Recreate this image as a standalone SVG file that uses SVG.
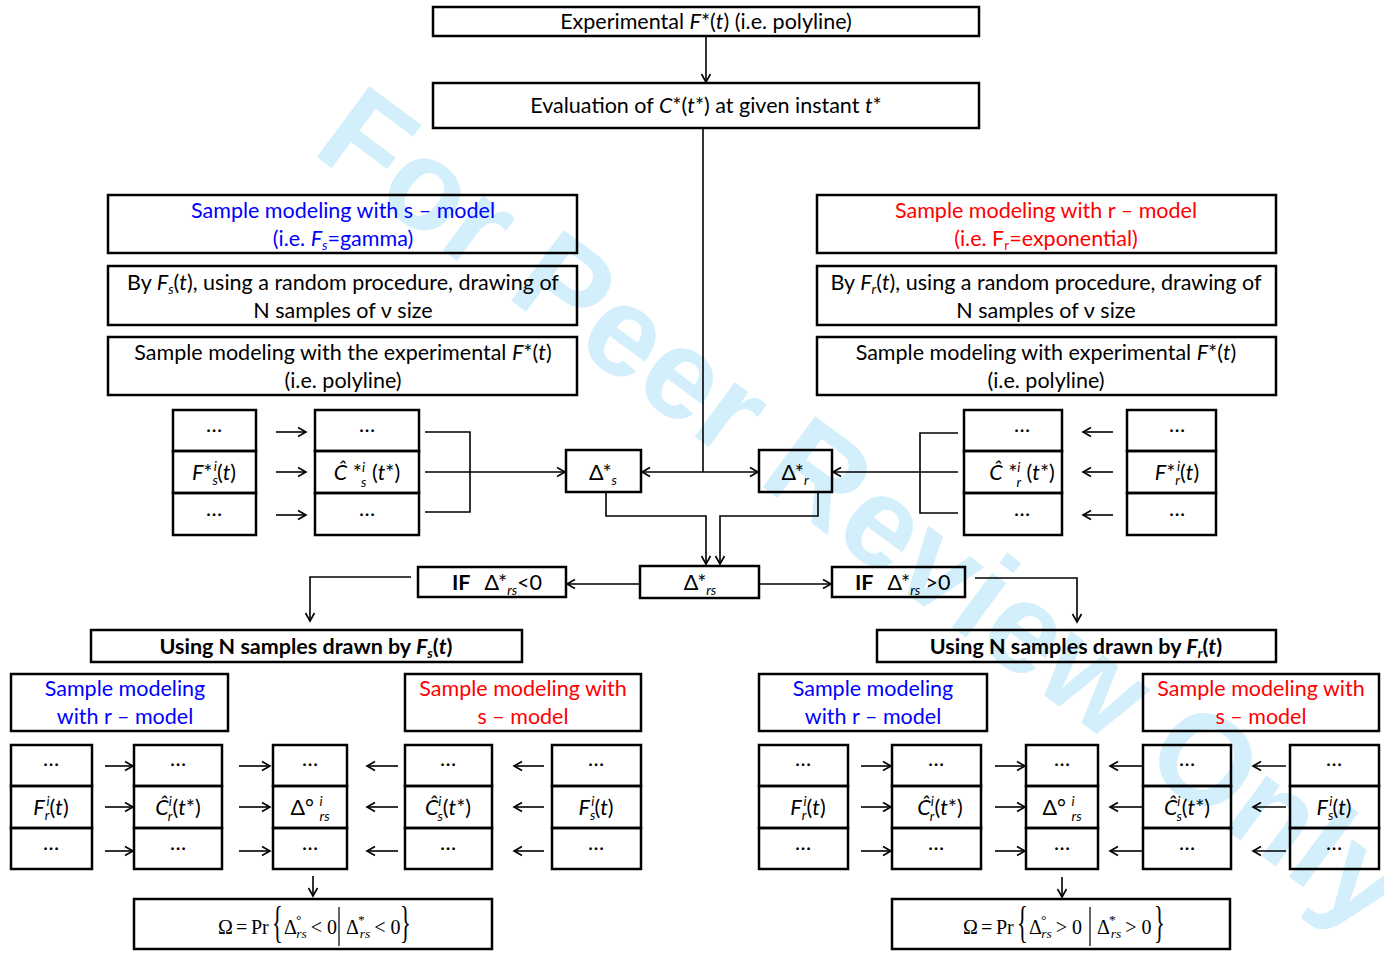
<svg xmlns="http://www.w3.org/2000/svg" width="1384" height="956" viewBox="0 0 1384 956">
<style>
.bg{fill:#fff}
.box{fill:none;stroke:#000;stroke-width:2.5}
.t{font-family:Lato,"Liberation Sans",sans-serif;font-size:21.5px;text-anchor:middle;fill:#000}
.ts{font-family:Lato,"Liberation Sans",sans-serif;font-size:21.5px;fill:#000}
.f{font-family:"Liberation Serif",serif;font-size:20px;fill:#000}
.br{font-family:"Liberation Serif",serif;font-size:45px;fill:#000}
.i{font-style:italic}
.b{font-weight:bold}
.sm{font-size:13.5px}
.blue{fill:#0000ff}
.red{fill:#ff0000}
.c{stroke:#000;stroke-width:1.6;fill:none}
.ca{stroke:#000;stroke-width:1.6;fill:none;marker-end:url(#ah)}
.wm{font-family:"Liberation Sans",Arial,sans-serif;font-weight:bold;font-size:128px;fill:#d3effc}
</style>
<defs>
<marker id="ah" markerWidth="12" markerHeight="12" refX="10" refY="6" orient="auto-start-reverse" markerUnits="userSpaceOnUse">
<path d="M2,1.5 L10,6 L2,10.5" fill="none" stroke="#000" stroke-width="1.6"/>
</marker>
</defs>
<rect class="bg" x="0" y="0" width="1384" height="956"/>
<text class="wm" transform="translate(310,152) rotate(36.5)">For Peer Review Only</text>

<g id="connectors">
<line class="ca" x1="706" y1="36" x2="706" y2="82"/>
<line class="c" x1="703" y1="128" x2="703" y2="472"/>
<polyline class="c" points="425,432 470,432 470,512 425,512"/>
<line class="ca" x1="425" y1="472" x2="565" y2="472"/>
<line class="ca" x1="703" y1="472" x2="642" y2="472"/>
<line class="ca" x1="703" y1="472" x2="758" y2="472"/>
<polyline class="c" points="958,433 920,433 920,513 958,513"/>
<line class="ca" x1="958" y1="472" x2="833" y2="472"/>
<polyline class="ca" points="606,492 606,516 706,516 706,564"/>
<polyline class="ca" points="818,492 818,516 720,516 720,564"/>
<line class="ca" x1="640" y1="584" x2="567" y2="584"/>
<line class="ca" x1="759" y1="584" x2="831" y2="584"/>
<polyline class="ca" points="411,577 310,577 310,621"/>
<polyline class="ca" points="975,578 1077,578 1077,622"/>
<line class="ca" x1="276" y1="432" x2="306" y2="432"/>
<line class="ca" x1="276" y1="472" x2="306" y2="472"/>
<line class="ca" x1="276" y1="515" x2="306" y2="515"/>
<line class="ca" x1="1113" y1="432" x2="1083" y2="432"/>
<line class="ca" x1="1113" y1="472" x2="1083" y2="472"/>
<line class="ca" x1="1113" y1="515" x2="1083" y2="515"/>
<line class="ca" x1="105" y1="766" x2="133" y2="766"/>
<line class="ca" x1="105" y1="807" x2="133" y2="807"/>
<line class="ca" x1="105" y1="851" x2="133" y2="851"/>
<line class="ca" x1="239" y1="766" x2="270" y2="766"/>
<line class="ca" x1="239" y1="807" x2="270" y2="807"/>
<line class="ca" x1="239" y1="851" x2="270" y2="851"/>
<line class="ca" x1="398" y1="766" x2="367" y2="766"/>
<line class="ca" x1="398" y1="807" x2="367" y2="807"/>
<line class="ca" x1="398" y1="851" x2="367" y2="851"/>
<line class="ca" x1="544" y1="766" x2="514" y2="766"/>
<line class="ca" x1="544" y1="807" x2="514" y2="807"/>
<line class="ca" x1="544" y1="851" x2="514" y2="851"/>
<line class="ca" x1="313" y1="876" x2="313" y2="896"/>
<line class="ca" x1="861" y1="766" x2="891" y2="766"/>
<line class="ca" x1="861" y1="807" x2="891" y2="807"/>
<line class="ca" x1="861" y1="851" x2="891" y2="851"/>
<line class="ca" x1="995" y1="766" x2="1025" y2="766"/>
<line class="ca" x1="995" y1="807" x2="1025" y2="807"/>
<line class="ca" x1="995" y1="851" x2="1025" y2="851"/>
<line class="ca" x1="1142" y1="766" x2="1110" y2="766"/>
<line class="ca" x1="1142" y1="807" x2="1110" y2="807"/>
<line class="ca" x1="1142" y1="851" x2="1110" y2="851"/>
<line class="ca" x1="1286" y1="766" x2="1253" y2="766"/>
<line class="ca" x1="1286" y1="807" x2="1253" y2="807"/>
<line class="ca" x1="1286" y1="851" x2="1253" y2="851"/>
<line class="ca" x1="1062" y1="877" x2="1062" y2="897"/>
</g>

<g id="n-experimental">
<rect class="box" x="433" y="7" width="546" height="29"/>
<text class="t" x="706" y="29">Experimental <tspan class="i">F</tspan>*(<tspan class="i">t</tspan>) (i.e. polyline)</text>
</g>
<g id="n-evaluation">
<rect class="box" x="433" y="83" width="546" height="45"/>
<text class="t" x="706" y="113">Evaluation of <tspan class="i">C</tspan>*(<tspan class="i">t</tspan>*) at given instant <tspan class="i">t</tspan>*</text>
</g>

<g id="n-s-model">
<rect class="box" x="108" y="195" width="469" height="58"/>
<text class="t blue" x="343" y="218">Sample modeling with s – model</text>
<text class="t blue" x="343" y="246">(i.e. <tspan class="i">F</tspan><tspan class="i sm" dy="4">s</tspan><tspan dy="-4">=gamma)</tspan></text>
</g>
<g id="n-s-draw">
<rect class="box" x="108" y="266" width="469" height="59"/>
<text class="t" x="343" y="290">By <tspan class="i">F</tspan><tspan class="i sm" dy="4">s</tspan><tspan dy="-4">(</tspan><tspan class="i">t</tspan>), using a random procedure, drawing of</text>
<text class="t" x="343" y="318">N samples of ν size</text>
</g>
<g id="n-s-exp">
<rect class="box" x="108" y="337" width="469" height="58"/>
<text class="t" x="343" y="360">Sample modeling with the experimental <tspan class="i">F</tspan>*(<tspan class="i">t</tspan>)</text>
<text class="t" x="343" y="388">(i.e. polyline)</text>
</g>

<g id="n-r-model">
<rect class="box" x="817" y="195" width="459" height="58"/>
<text class="t red" x="1046" y="218">Sample modeling with r – model</text>
<text class="t red" x="1046" y="246">(i.e. F<tspan class="sm" dy="4">r</tspan><tspan dy="-4">=exponential)</tspan></text>
</g>
<g id="n-r-draw">
<rect class="box" x="817" y="266" width="459" height="59"/>
<text class="t" x="1046" y="290">By <tspan class="i">F</tspan><tspan class="i sm" dy="4">r</tspan><tspan dy="-4">(</tspan><tspan class="i">t</tspan>), using a random procedure, drawing of</text>
<text class="t" x="1046" y="318">N samples of ν size</text>
</g>
<g id="n-r-exp">
<rect class="box" x="817" y="337" width="459" height="58"/>
<text class="t" x="1046" y="360">Sample modeling with experimental <tspan class="i">F</tspan>*(<tspan class="i">t</tspan>)</text>
<text class="t" x="1046" y="388">(i.e. polyline)</text>
</g>

<g id="n-table-Fs-star">
<rect class="box" x="173" y="410" width="83" height="41"/>
<rect class="box" x="173" y="451" width="83" height="42"/>
<rect class="box" x="173" y="493" width="83" height="42"/>
<text class="t" x="214" y="432">…</text>
<text class="t" x="214" y="480"><tspan class="i">F</tspan>*<tspan class="i sm" dy="5">s</tspan><tspan class="i sm" dx="-4" dy="-14">i</tspan><tspan dy="9">(</tspan><tspan class="i">t</tspan>)</text>
<text class="t" x="214" y="516">…</text>
</g>
<g id="n-table-Cs-star">
<rect class="box" x="315" y="410" width="104" height="41"/>
<rect class="box" x="315" y="451" width="104" height="42"/>
<rect class="box" x="315" y="493" width="104" height="42"/>
<text class="t" x="367" y="432">…</text>
<text class="t" x="367" y="480"><tspan class="i">Ĉ</tspan> *<tspan class="i sm" dy="-8">i</tspan><tspan class="i sm" dx="-4" dy="15">s</tspan><tspan dy="-7"> (</tspan><tspan class="i">t</tspan>*)</text>
<text class="t" x="367" y="516">…</text>
</g>
<g id="n-delta-s">
<rect class="box" x="566" y="450" width="75" height="42"/>
<text class="t" x="603" y="480">Δ*<tspan class="i sm" dy="5">s</tspan></text>
</g>
<g id="n-delta-r">
<rect class="box" x="759" y="450" width="73" height="42"/>
<text class="t" x="795" y="480">Δ*<tspan class="i sm" dy="5">r</tspan></text>
</g>
<g id="n-table-Cr-star">
<rect class="box" x="964" y="410" width="98" height="41"/>
<rect class="box" x="964" y="451" width="98" height="42"/>
<rect class="box" x="964" y="493" width="98" height="42"/>
<text class="t" x="1022" y="432">…</text>
<text class="t" x="1022" y="480"><tspan class="i">Ĉ</tspan> *<tspan class="i sm" dy="-8">i</tspan><tspan class="i sm" dx="-4" dy="15">r</tspan><tspan dy="-7"> (</tspan><tspan class="i">t</tspan>*)</text>
<text class="t" x="1022" y="516">…</text>
</g>
<g id="n-table-Fr-star">
<rect class="box" x="1127" y="410" width="89" height="41"/>
<rect class="box" x="1127" y="451" width="89" height="42"/>
<rect class="box" x="1127" y="493" width="89" height="42"/>
<text class="t" x="1177" y="432">…</text>
<text class="t" x="1177" y="480"><tspan class="i">F</tspan>*<tspan class="i sm" dy="5">r</tspan><tspan class="i sm" dx="-3" dy="-14">i</tspan><tspan dy="9">(</tspan><tspan class="i">t</tspan>)</text>
<text class="t" x="1177" y="516">…</text>
</g>

<g id="n-delta-rs">
<rect class="box" x="640" y="566" width="119" height="32"/>
<text class="t" x="700" y="590">Δ*<tspan class="i sm" dy="5">rs</tspan></text>
</g>
<g id="n-if-neg">
<rect class="box" x="418" y="567" width="148" height="30"/>
<text class="ts" x="452" y="590"><tspan class="b">IF</tspan><tspan dx="14">Δ*</tspan><tspan class="i sm" dy="5">rs</tspan><tspan dy="-5">&lt;0</tspan></text>
</g>
<g id="n-if-pos">
<rect class="box" x="832" y="567" width="133" height="30"/>
<text class="ts" x="855" y="590"><tspan class="b">IF</tspan><tspan dx="14">Δ*</tspan><tspan class="i sm" dy="5">rs</tspan><tspan dy="-5"> &gt;0</tspan></text>
</g>

<g id="n-using-Fs">
<rect class="box" x="91" y="630" width="431" height="32"/>
<text class="t b" x="306" y="654">Using N samples drawn by <tspan class="i">F</tspan><tspan class="i sm" dy="4">s</tspan><tspan dy="-4">(</tspan><tspan class="i">t</tspan>)</text>
</g>
<g id="n-using-Fr">
<rect class="box" x="877" y="630" width="399" height="32"/>
<text class="t b" x="1076" y="654">Using N samples drawn by <tspan class="i">F</tspan><tspan class="i sm" dy="4">r</tspan><tspan dy="-4">(</tspan><tspan class="i">t</tspan>)</text>
</g>

<g id="n-bl-r-model">
<rect class="box" x="11" y="674" width="217" height="57"/>
<text class="t blue" x="125" y="696">Sample modeling</text>
<text class="t blue" x="125" y="724">with r – model</text>
</g>
<g id="n-bl-s-model">
<rect class="box" x="405" y="674" width="236" height="57"/>
<text class="t red" x="523" y="696">Sample modeling with</text>
<text class="t red" x="523" y="724">s – model</text>
</g>
<g id="n-br-r-model">
<rect class="box" x="759" y="674" width="228" height="57"/>
<text class="t blue" x="873" y="696">Sample modeling</text>
<text class="t blue" x="873" y="724">with r – model</text>
</g>
<g id="n-br-s-model">
<rect class="box" x="1143" y="674" width="236" height="57"/>
<text class="t red" x="1261" y="696">Sample modeling with</text>
<text class="t red" x="1261" y="724">s – model</text>
</g>

<g id="n-bl-Fr">
<rect class="box" x="11" y="745" width="81" height="41"/>
<rect class="box" x="11" y="786" width="81" height="42"/>
<rect class="box" x="11" y="828" width="81" height="41"/>
<text class="t" x="51" y="766">…</text>
<text class="t" x="51" y="815"><tspan class="i">F</tspan><tspan class="i sm" dy="5">r</tspan><tspan class="i sm" dx="-3" dy="-14">i</tspan><tspan dy="9">(</tspan><tspan class="i">t</tspan>)</text>
<text class="t" x="51" y="850">…</text>
</g>
<g id="n-bl-Cr">
<rect class="box" x="134" y="745" width="88" height="41"/>
<rect class="box" x="134" y="786" width="88" height="42"/>
<rect class="box" x="134" y="828" width="88" height="41"/>
<text class="t" x="178" y="766">…</text>
<text class="t" x="178" y="815"><tspan class="i">Ĉ</tspan><tspan class="i sm" dy="-9">i</tspan><tspan class="i sm" dx="-4" dy="15">r</tspan><tspan dy="-6">(</tspan><tspan class="i">t</tspan>*)</text>
<text class="t" x="178" y="850">…</text>
</g>
<g id="n-bl-delta">
<rect class="box" x="273" y="745" width="74" height="41"/>
<rect class="box" x="273" y="786" width="74" height="42"/>
<rect class="box" x="273" y="828" width="74" height="41"/>
<text class="t" x="310" y="766">…</text>
<text class="t" x="310" y="815">Δ° <tspan class="i sm" dy="-9">i</tspan><tspan class="i sm" dx="-3" dy="15">rs</tspan></text>
<text class="t" x="310" y="850">…</text>
</g>
<g id="n-bl-Cs">
<rect class="box" x="405" y="745" width="87" height="41"/>
<rect class="box" x="405" y="786" width="87" height="42"/>
<rect class="box" x="405" y="828" width="87" height="41"/>
<text class="t" x="448" y="766">…</text>
<text class="t" x="448" y="815"><tspan class="i">Ĉ</tspan><tspan class="i sm" dy="-9">i</tspan><tspan class="i sm" dx="-4" dy="15">s</tspan><tspan dy="-6">(</tspan><tspan class="i">t</tspan>*)</text>
<text class="t" x="448" y="850">…</text>
</g>
<g id="n-bl-Fs">
<rect class="box" x="552" y="745" width="89" height="41"/>
<rect class="box" x="552" y="786" width="89" height="42"/>
<rect class="box" x="552" y="828" width="89" height="41"/>
<text class="t" x="596" y="766">…</text>
<text class="t" x="596" y="815"><tspan class="i">F</tspan><tspan class="i sm" dy="5">s</tspan><tspan class="i sm" dx="-4" dy="-14">i</tspan><tspan dy="9">(</tspan><tspan class="i">t</tspan>)</text>
<text class="t" x="596" y="850">…</text>
</g>
<g id="n-bl-omega">
<rect class="box" x="134" y="899" width="358" height="50"/>
<text class="f" x="218" y="934">Ω<tspan x="236">=</tspan><tspan x="251">Pr</tspan></text>
<text class="br" transform="translate(272,937) scale(0.5,1)">{</text>
<text class="f" x="284" y="934">Δ<tspan class="sm" dx="-1" dy="-10">°</tspan><tspan class="i sm" dx="-5" dy="14">rs</tspan><tspan dx="4" dy="-4">&lt; 0</tspan></text>
<line x1="339" y1="907" x2="339" y2="946" stroke="#000" stroke-width="1.2"/>
<text class="f" x="346" y="934">Δ<tspan class="sm" dx="-1" dy="-10">*</tspan><tspan class="i sm" dx="-5" dy="14">rs</tspan><tspan dx="4" dy="-4">&lt; 0</tspan></text>
<text class="br" transform="translate(400,937) scale(0.5,1)">}</text>
</g>

<g id="n-br-Fr">
<rect class="box" x="759" y="745" width="89" height="41"/>
<rect class="box" x="759" y="786" width="89" height="42"/>
<rect class="box" x="759" y="828" width="89" height="41"/>
<text class="t" x="803" y="766">…</text>
<text class="t" x="808" y="815"><tspan class="i">F</tspan><tspan class="i sm" dy="5">r</tspan><tspan class="i sm" dx="-3" dy="-14">i</tspan><tspan dy="9">(</tspan><tspan class="i">t</tspan>)</text>
<text class="t" x="803" y="850">…</text>
</g>
<g id="n-br-Cr">
<rect class="box" x="892" y="745" width="89" height="41"/>
<rect class="box" x="892" y="786" width="89" height="42"/>
<rect class="box" x="892" y="828" width="89" height="41"/>
<text class="t" x="936" y="766">…</text>
<text class="t" x="940" y="815"><tspan class="i">Ĉ</tspan><tspan class="i sm" dy="-9">i</tspan><tspan class="i sm" dx="-4" dy="15">r</tspan><tspan dy="-6">(</tspan><tspan class="i">t</tspan>*)</text>
<text class="t" x="936" y="850">…</text>
</g>
<g id="n-br-delta">
<rect class="box" x="1026" y="745" width="72" height="41"/>
<rect class="box" x="1026" y="786" width="72" height="42"/>
<rect class="box" x="1026" y="828" width="72" height="41"/>
<text class="t" x="1062" y="766">…</text>
<text class="t" x="1062" y="815">Δ° <tspan class="i sm" dy="-9">i</tspan><tspan class="i sm" dx="-3" dy="15">rs</tspan></text>
<text class="t" x="1062" y="850">…</text>
</g>
<g id="n-br-Cs">
<rect class="box" x="1143" y="745" width="88" height="41"/>
<rect class="box" x="1143" y="786" width="88" height="42"/>
<rect class="box" x="1143" y="828" width="88" height="41"/>
<text class="t" x="1187" y="766">…</text>
<text class="t" x="1187" y="815"><tspan class="i">Ĉ</tspan><tspan class="i sm" dy="-9">i</tspan><tspan class="i sm" dx="-4" dy="15">s</tspan><tspan dy="-6">(</tspan><tspan class="i">t</tspan>*)</text>
<text class="t" x="1187" y="850">…</text>
</g>
<g id="n-br-Fs">
<rect class="box" x="1290" y="745" width="89" height="41"/>
<rect class="box" x="1290" y="786" width="89" height="42"/>
<rect class="box" x="1290" y="828" width="89" height="41"/>
<text class="t" x="1334" y="766">…</text>
<text class="t" x="1334" y="815"><tspan class="i">F</tspan><tspan class="i sm" dy="5">s</tspan><tspan class="i sm" dx="-4" dy="-14">i</tspan><tspan dy="9">(</tspan><tspan class="i">t</tspan>)</text>
<text class="t" x="1334" y="850">…</text>
</g>
<g id="n-br-omega">
<rect class="box" x="892" y="899" width="338" height="50"/>
<text class="f" x="963" y="934">Ω<tspan x="981">=</tspan><tspan x="996">Pr</tspan></text>
<text class="br" transform="translate(1017,937) scale(0.5,1)">{</text>
<text class="f" x="1029" y="934">Δ<tspan class="sm" dx="-1" dy="-10">°</tspan><tspan class="i sm" dx="-5" dy="14">rs</tspan><tspan dx="4" dy="-4">&gt; 0</tspan></text>
<line x1="1090" y1="907" x2="1090" y2="946" stroke="#000" stroke-width="1.2"/>
<text class="f" x="1097" y="934">Δ<tspan class="sm" dx="-1" dy="-10">*</tspan><tspan class="i sm" dx="-5" dy="14">rs</tspan><tspan dx="4" dy="-4">&gt; 0</tspan></text>
<text class="br" transform="translate(1154,937) scale(0.5,1)">}</text>
</g>
</svg>
